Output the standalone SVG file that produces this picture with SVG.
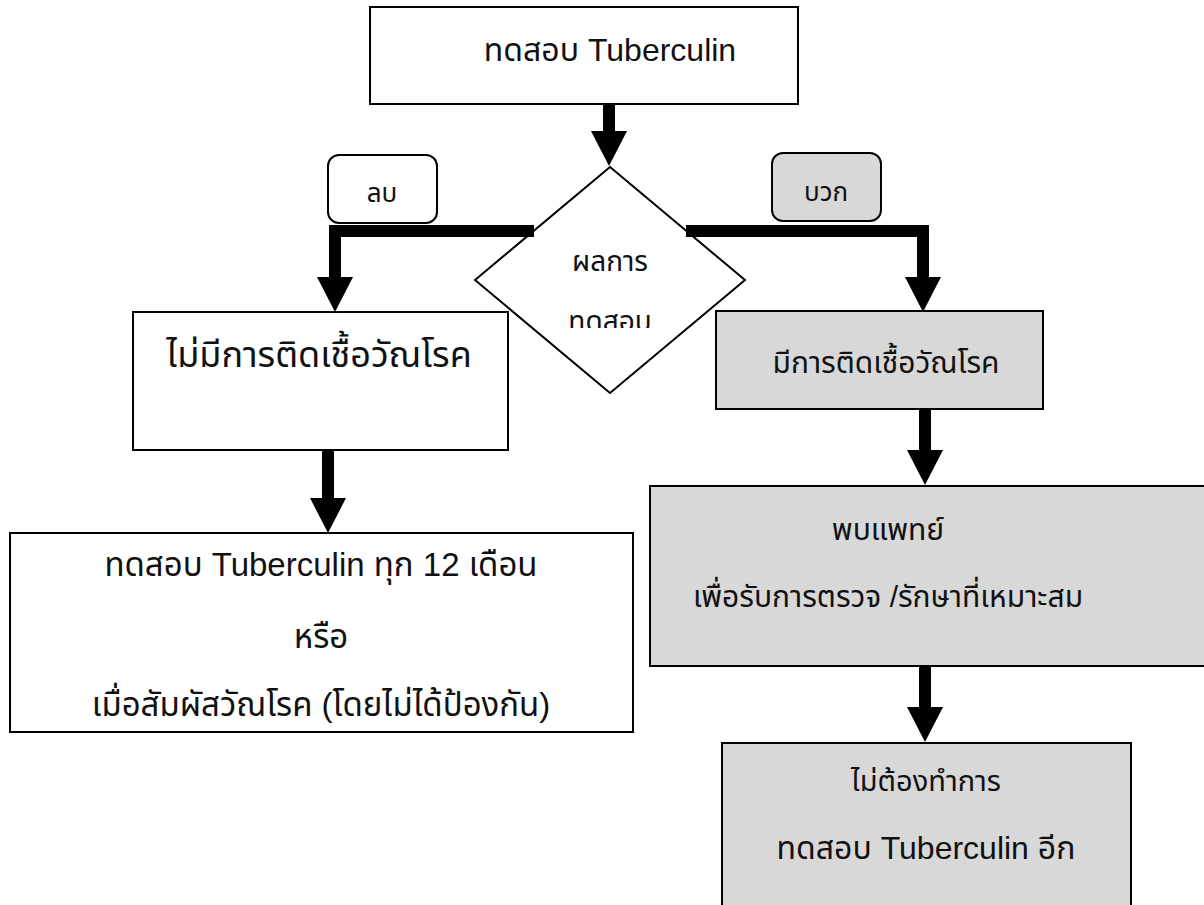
<svg xmlns="http://www.w3.org/2000/svg" width="1204" height="905" viewBox="0 0 1204 905">
<style>
text{font-family:"Liberation Sans","Noto Sans Thai","Noto Sans",sans-serif;fill:#111;text-anchor:middle}
.box{fill:#fff;stroke:#000;stroke-width:2}
.gray{fill:#d8d8d8;stroke:#000;stroke-width:2}
.con{fill:none;stroke:#000;stroke-width:12;stroke-linejoin:miter}
.lbl{font-size:26px}
.dia{font-size:28px}
</style>
<defs>
<marker id="ah" viewBox="0 0 35 36" markerWidth="35" markerHeight="36" refX="0" refY="18" orient="auto" markerUnits="userSpaceOnUse"><path d="M0,0 L35,18 L0,36 Z" fill="#000"/></marker>
<clipPath id="dclip"><rect x="470" y="160" width="280" height="168"/></clipPath>
</defs>
<g id="start"><rect class="box" x="370" y="7" width="428" height="97"/><text font-size="32" x="610" y="61">ทดสอบ Tuberculin</text></g>
<g id="decision"><polygon class="box" points="610,167 745,280 610,393 475,280"/><g clip-path="url(#dclip)"><text class="dia" x="610" y="271">ผลการ</text><text class="dia" x="610" y="331">ทดสอบ</text></g></g>
<g id="label-neg"><rect class="box" x="328" y="155" width="109" height="68" rx="11"/><text class="lbl" x="382" y="202">ลบ</text></g>
<g id="label-pos"><rect class="gray" x="772" y="153" width="109" height="68" rx="11"/><text class="lbl" x="826" y="201">บวก</text></g>
<g id="no-infection"><rect class="box" x="133" y="312" width="375" height="138"/><text font-size="36" x="319" y="367">ไม่มีการติดเชื้อวัณโรค</text></g>
<g id="infection"><rect class="gray" x="716" y="311" width="327" height="98"/><text font-size="30" x="886" y="373">มีการติดเชื้อวัณโรค</text></g>
<g id="retest"><rect class="box" x="10" y="533" width="623" height="199"/><g font-size="33"><text x="321" y="576">ทดสอบ Tuberculin ทุก 12 เดือน</text><text x="321" y="648">หรือ</text><text x="321" y="716">เมื่อสัมผัสวัณโรค (โดยไม่ได้ป้องกัน)</text></g></g>
<g id="doctor"><rect class="gray" x="650" y="486" width="570" height="180"/><g font-size="30"><text x="888" y="540">พบแพทย์</text><text x="888" y="607">เพื่อรับการตรวจ /รักษาที่เหมาะสม</text></g></g>
<g id="no-retest"><rect class="gray" x="722" y="743" width="409" height="180"/><text font-size="29" x="926" y="791">ไม่ต้องทำการ</text><text font-size="32" x="926" y="859">ทดสอบ Tuberculin อีก</text></g>
<g id="connectors">
<path class="con" d="M609,104 V131" marker-end="url(#ah)"/>
<path class="con" d="M534,231 H335 V277" marker-end="url(#ah)"/>
<path class="con" d="M686,231 H923 V277" marker-end="url(#ah)"/>
<path class="con" d="M328,450 V498" marker-end="url(#ah)"/>
<path class="con" d="M925,409 V450" marker-end="url(#ah)"/>
<path class="con" d="M925,666 V707" marker-end="url(#ah)"/>
</g>
</svg>
